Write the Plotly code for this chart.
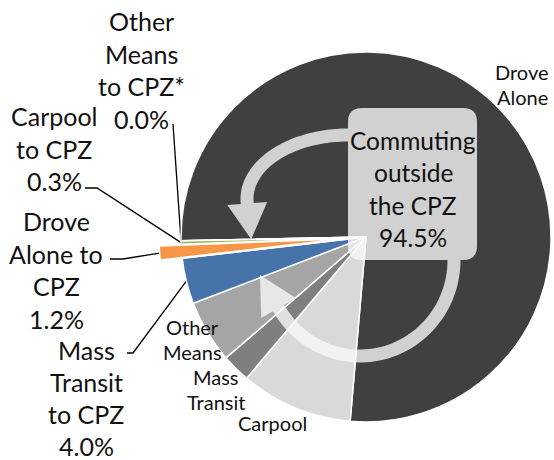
import numpy as np
import plotly.graph_objects as go

W, H = 554, 460

# ---------------- data ----------------
# slices in clockwise order, starting just below 9 o'clock and going up
slice_labels = ["Drove Alone", "Carpool", "Mass Transit", "Other Means",
                "Mass Transit to CPZ", "Drove Alone to CPZ", "Carpool to CPZ",
                "Other Means to CPZ*"]
slice_values = [76.7, 9.8, 2.5, 5.5, 4.0, 1.2, 0.3, 0.0]
slice_colors = ["#404040", "#d9d9d9", "#7f7f7f", "#a5a5a5",
                "#4674aa", "#f79646", "#9bbb59", "#8064a2"]
cpz_slices = ["Mass Transit to CPZ", "Drove Alone to CPZ", "Carpool to CPZ", "Other Means to CPZ*"]
pulled_slice = "Drove Alone to CPZ"

# display texts
inner_label_text = {"Drove Alone": "Drove<br>Alone", "Carpool": "Carpool",
                    "Mass Transit": "Mass<br>Transit", "Other Means": "Other<br>Means"}
cpz_label_text = {"Mass Transit to CPZ": "Mass<br>Transit<br>to CPZ",
                  "Drove Alone to CPZ": "Drove<br>Alone to<br>CPZ",
                  "Carpool to CPZ": "Carpool<br>to CPZ",
                  "Other Means to CPZ*": "Other<br>Means<br>to CPZ*"}
box_text = "Commuting<br>outside<br>the CPZ"

# ---------------- layout geometry ----------------
CX, CY, R = 366.0, 237.0, 185.0
ROT = 268.8
PULL = 22.0 / R
FONT = "Lato, 'Open Sans', sans-serif"
TXT = "#111111"

total = sum(slice_values)
cum = np.concatenate([[0], np.cumsum(slice_values)]) / total
idx = {l: i for i, l in enumerate(slice_labels)}


def pie_pt(frac, r, cx=CX, cy=CY):
    a = np.radians(ROT + 360.0 * frac)
    return cx + r * np.sin(a), cy - r * np.cos(a)


def domain(cx, cy, r):
    return dict(x=[(cx - r) / W, (cx + r) / W], y=[1 - (cy + r) / H, 1 - (cy - r) / H])


fig = go.Figure()

# main pie (pulled slice left empty)
main_colors = [("rgba(0,0,0,0)" if l == pulled_slice else c) for l, c in zip(slice_labels, slice_colors)]
fig.add_trace(go.Pie(labels=slice_labels, values=slice_values, sort=False,
                     direction="clockwise", rotation=ROT, textinfo="none",
                     hoverinfo="label+value",
                     marker=dict(colors=main_colors, line=dict(color="white", width=1.5)),
                     domain=domain(CX, CY, R), showlegend=False))

# pulled slice, drawn as the same pie offset along its bisector
ip = idx[pulled_slice]
mid_frac = (cum[ip] + cum[ip + 1]) / 2
a_mid = np.radians(ROT + 360 * mid_frac)
pcx, pcy = CX + PULL * R * np.sin(a_mid), CY - PULL * R * np.cos(a_mid)
p_colors = [(c if l == pulled_slice else "rgba(0,0,0,0)") for l, c in zip(slice_labels, slice_colors)]
p_lines = [("white" if l == pulled_slice else "rgba(0,0,0,0)") for l in slice_labels]
fig.add_trace(go.Pie(labels=slice_labels, values=slice_values, sort=False,
                     direction="clockwise", rotation=ROT, textinfo="none",
                     hoverinfo="skip",
                     marker=dict(colors=p_colors, line=dict(color=p_lines, width=1.5)),
                     domain=domain(pcx, pcy, R), showlegend=False))

# ---------------- text helper: one annotation per line for exact spacing ----------------
annotations = []


def add_block(text, x, y_first, spacing, size):
    for k, line in enumerate(text.split("<br>")):
        annotations.append(dict(x=x, y=y_first + k * spacing, xref="x", yref="y",
                                showarrow=False, text=line,
                                font=dict(family=FONT, size=size, color=TXT),
                                xanchor="center", yanchor="middle", align="center"))


# ---------------- CPZ labels with leader lines ----------------
label_pos = {  # x centre, first-line y, line spacing, elbow start, elbow end
    "Other Means to CPZ*": (141, 21, 32.5, (173, 124), (173, 124)),
    "Carpool to CPZ": (54, 116, 32.5, (85, 188), (97, 188)),
    "Drove Alone to CPZ": (56, 221, 32.5, (110, 259), (123, 259)),
    "Mass Transit to CPZ": (86, 350, 32.0, (127, 353), (133, 353)),
}
for lab in cpz_slices:
    i = idx[lab]
    v = slice_values[i]
    if lab == "Other Means to CPZ*":
        ex, ey = pie_pt(cum[i], R)
    elif lab == pulled_slice:
        ex, ey = pie_pt((cum[i] + cum[i + 1]) / 2, R, pcx, pcy)
    else:
        ex, ey = pie_pt((cum[i] + cum[i + 1]) / 2, R)
    tx, ty, sp, p0, p1 = label_pos[lab]
    fig.add_trace(go.Scatter(x=[p0[0], p1[0], ex], y=[p0[1], p1[1], ey], mode="lines",
                             line=dict(color="black", width=1.3), hoverinfo="skip",
                             showlegend=False))
    add_block(f"{cpz_label_text[lab]}<br>{v:.1f}%", tx, ty, sp, 25)

inner_pos = {"Drove Alone": (522, 72), "Other Means": (192, 327),
             "Mass Transit": (216, 377), "Carpool": (272, 423)}
for lab, (tx, ty) in inner_pos.items():
    add_block(inner_label_text[lab], tx, ty, 25, 20)

outside_pct = sum(v for l, v in zip(slice_labels, slice_values) if l not in cpz_slices)
add_block(f"{box_text}<br>{outside_pct:.1f}%", 413, 140, 32.5, 24.5)

# ---------------- decorative box and curved arrows ----------------
FILL = "rgba(249,249,249,0.79)"


def rounded_box(x0, y0, x1, y1, r):
    return (f"M{x0+r},{y0} L{x1-r},{y0} Q{x1},{y0} {x1},{y0+r} L{x1},{y1-r} "
            f"Q{x1},{y1} {x1-r},{y1} L{x0+r},{y1} Q{x0},{y1} {x0},{y1-r} "
            f"L{x0},{y0+r} Q{x0},{y0} {x0+r},{y0} Z")


def arc_arrow(cx, cy, rx, ry, hw, th0, th1, head_len, head_half):
    th = np.radians(np.linspace(th0, th1, 60))
    outer = [(cx + (rx + hw) * np.cos(t), cy + (ry + hw) * np.sin(t)) for t in th]
    inner = [(cx + (rx - hw) * np.cos(t), cy + (ry - hw) * np.sin(t)) for t in th][::-1]
    t1 = th[-1]
    s = 1 if th1 > th0 else -1
    d = np.array([-rx * np.sin(t1), ry * np.cos(t1)]) * s
    d = d / np.linalg.norm(d)
    n = np.array([np.cos(t1), np.sin(t1)])
    pm = np.array([cx + rx * np.cos(t1), cy + ry * np.sin(t1)])
    head = [tuple(pm + head_half * n), tuple(pm + head_len * d), tuple(pm - head_half * n)]
    pts = outer + head + inner
    return "M" + " L".join(f"{x:.1f},{y:.1f}" for x, y in pts) + " Z"


shapes = [
    dict(type="path", path=rounded_box(348, 108, 477, 260, 14), xref="x", yref="y",
         fillcolor=FILL, line=dict(width=0), layer="above"),
    dict(type="path", path=arc_arrow(348, 199, 101, 64, 6.5, -90, -184, 36, 20),
         xref="x", yref="y", fillcolor=FILL, line=dict(width=0), layer="above"),
    dict(type="path", path=arc_arrow(360, 260, 94, 96, 6.5, 0, 150, 38, 20),
         xref="x", yref="y", fillcolor=FILL, line=dict(width=0), layer="above"),
]

fig.update_layout(
    width=W, height=H, margin=dict(l=0, r=0, t=0, b=0),
    paper_bgcolor="white", plot_bgcolor="rgba(0,0,0,0)",
    xaxis=dict(range=[0, W], visible=False, fixedrange=True),
    yaxis=dict(range=[H, 0], visible=False, fixedrange=True),
    annotations=annotations, shapes=shapes, showlegend=False,
)

fig.write_html("out.html", config={"displayModeBar": False},
               post_script="document.body.style.margin='0';document.body.style.overflow='hidden';")
